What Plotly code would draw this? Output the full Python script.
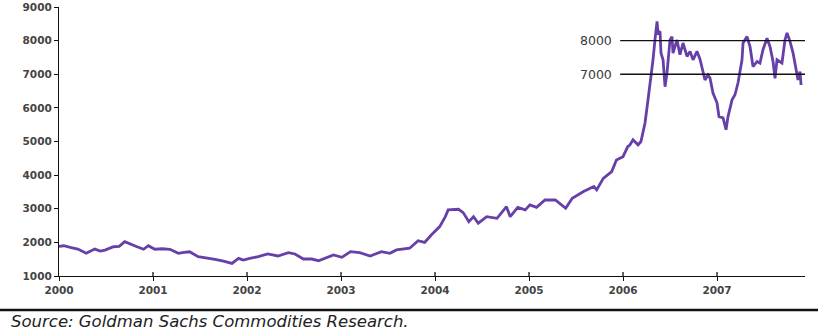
import plotly.graph_objects as go

# Price series (x in fractional years, y in US$/t)
years = [
    2000.00, 2000.05, 2000.13, 2000.20, 2000.29, 2000.38, 2000.44, 2000.49, 2000.58, 2000.64,
    2000.70, 2000.76, 2000.83, 2000.90, 2000.95, 2001.02, 2001.10, 2001.18, 2001.27, 2001.33,
    2001.39, 2001.48, 2001.57, 2001.66, 2001.75, 2001.84, 2001.91, 2001.96, 2002.04, 2002.12,
    2002.22, 2002.33, 2002.44, 2002.51, 2002.60, 2002.69, 2002.76, 2002.85, 2002.92, 2003.01,
    2003.10, 2003.20, 2003.31, 2003.43, 2003.52, 2003.59, 2003.66, 2003.73, 2003.82, 2003.89,
    2003.96, 2004.05, 2004.11, 2004.14, 2004.25, 2004.30, 2004.36, 2004.41, 2004.46, 2004.55,
    2004.66, 2004.76, 2004.80, 2004.88, 2004.96, 2005.01, 2005.08, 2005.17, 2005.28, 2005.35,
    2005.39, 2005.46, 2005.58, 2005.69, 2005.72, 2005.79, 2005.88, 2005.93, 2006.00, 2006.05,
    2006.074, 2006.106, 2006.160, 2006.191, 2006.234, 2006.266, 2006.298, 2006.319, 2006.340, 2006.362,
    2006.372, 2006.394, 2006.404, 2006.426, 2006.447, 2006.468, 2006.500, 2006.521, 2006.532, 2006.574,
    2006.606, 2006.638, 2006.681, 2006.713, 2006.745, 2006.787, 2006.819, 2006.872, 2006.904, 2006.926,
    2006.957, 2007.000, 2007.021, 2007.064, 2007.096, 2007.117, 2007.160, 2007.191, 2007.223, 2007.266,
    2007.277, 2007.319, 2007.351, 2007.383, 2007.426, 2007.457, 2007.489, 2007.532, 2007.564, 2007.596,
    2007.617, 2007.638, 2007.691, 2007.723, 2007.745, 2007.777, 2007.809, 2007.851, 2007.862, 2007.883,
    2007.894,
]
prices = [
    1880, 1900, 1842, 1800, 1675, 1800, 1740, 1770, 1870, 1880,
    2020, 1960, 1870, 1795, 1900, 1795, 1810, 1795, 1675, 1700,
    1720, 1575, 1540, 1495, 1440, 1375, 1525, 1475, 1530, 1575,
    1655, 1595, 1695, 1655, 1505, 1505, 1455, 1560, 1625, 1555,
    1725, 1695, 1595, 1725, 1675, 1775, 1790, 1825, 2050, 2000,
    2220, 2470, 2765, 2965, 2985, 2885, 2615, 2765, 2570, 2765,
    2715, 3060, 2765, 3040, 2965, 3115, 3040, 3260, 3260, 3115,
    3015, 3310, 3510, 3660, 3560, 3905, 4105, 4450, 4550, 4850,
    4900, 5050, 4900, 5000, 5550, 6240, 6930, 7430, 8020, 8570,
    8230, 8270, 7630, 7430, 6630, 7040, 8020, 8120, 7630, 8020,
    7580, 7930, 7530, 7680, 7430, 7680, 7450, 6830, 6980, 6880,
    6440, 6150, 5740, 5700, 5350, 5740, 6240, 6390, 6740, 7430,
    7930, 8120, 7820, 7230, 7380, 7330, 7730, 8070, 7820, 7380,
    6880, 7430, 7330, 8020, 8230, 7970, 7630, 7040, 6830, 7080,
    6680,
]

tick_years = [2000, 2001, 2002, 2003, 2004, 2005, 2006, 2007]
tick_labels = ["2000", "2001", "2002", "2003", "2004", "2005", "2006", "2007"]
y_ticks = [1000, 2000, 3000, 4000, 5000, 6000, 7000, 8000, 9000]

# Reference levels drawn across the recent trading range
ref_levels = [8000, 7000]
ref_start = 2005.97
x_end = 2007.936

LINE = "#6640a8"
TXT = "#3a3a3a"
AXIS_FONT = dict(family="DejaVu Sans", size=10.5, color="#444444", weight="bold")

fig = go.Figure()
fig.add_trace(go.Scatter(
    x=years, y=prices, mode="lines",
    line=dict(color=LINE, width=2.8, shape="linear"),
    hoverinfo="x+y", showlegend=False,
))

shapes = []
annotations = []
for lvl in ref_levels:
    shapes.append(dict(type="line", xref="x", yref="y", x0=ref_start, x1=x_end,
                       y0=lvl, y1=lvl, line=dict(color="#111111", width=1.4)))
    annotations.append(dict(x=2005.905, y=lvl, xref="x", yref="y", text=str(lvl),
                            showarrow=False, xanchor="right", yanchor="middle",
                            font=dict(family="DejaVu Sans", size=12.5, color=TXT)))

# Upward halves of the x-axis tick marks (crossing ticks)
for yr in tick_years[1:]:
    shapes.append(dict(type="line", xref="x", yref="paper", x0=yr, x1=yr, y0=0, y1=0.015,
                       line=dict(color="#111111", width=1.3)))

# Rule above the source line
shapes.append(dict(type="line", xref="paper", yref="paper", x0=-0.08, x1=1.02,
                   y0=-0.1264, y1=-0.1264, line=dict(color="#111111", width=2.6)))

annotations.append(dict(x=-0.067, y=-0.171, xref="paper", yref="paper",
                        text="<i>Source: Goldman Sachs Commodities Research.</i>",
                        showarrow=False, xanchor="left", yanchor="middle",
                        font=dict(family="DejaVu Sans", size=16.5, color="#222222")))

fig.update_layout(
    width=818, height=331,
    margin=dict(l=59, r=13, t=7, b=55),
    paper_bgcolor="white", plot_bgcolor="white",
    shapes=shapes, annotations=annotations,
    xaxis=dict(
        range=[2000, x_end], tickmode="array", tickvals=tick_years, ticktext=tick_labels,
        showgrid=False, zeroline=False, showline=True, linecolor="#111111", linewidth=1.3,
        ticks="outside", ticklen=4, tickwidth=1.3, tickcolor="#111111",
        tickfont=AXIS_FONT, automargin=False,
    ),
    yaxis=dict(
        range=[1000, 9000], tickmode="array", tickvals=y_ticks,
        showgrid=False, zeroline=False, showline=True, linecolor="#111111", linewidth=1.3,
        ticks="outside", ticklen=4, tickwidth=1.3, tickcolor="#111111",
        tickfont=AXIS_FONT, automargin=False,
    ),
)

fig.write_html("out.html")
